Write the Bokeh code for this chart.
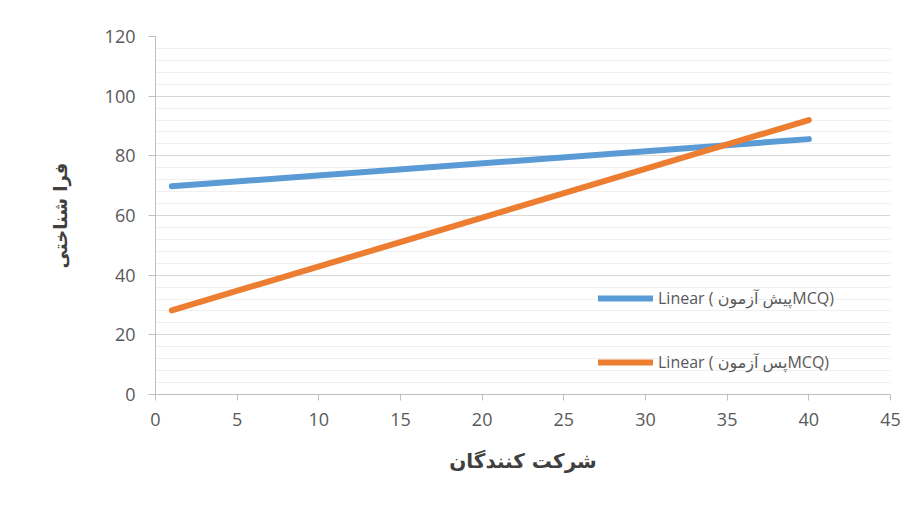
from bokeh.plotting import figure
from bokeh.models import Legend, LegendItem, FixedTicker, Range1d
from bokeh.embed import file_html
from bokeh.resources import INLINE

# Data (trendline endpoints)
participants = [1, 40]
pre_test = [69.8, 85.6]
post_test = [28.2, 92.0]
x_ticks = [0, 5, 10, 15, 20, 25, 30, 35, 40, 45]
y_ticks = [0, 20, 40, 60, 80, 100, 120]
pre_label = "Linear ( پیش آزمونMCQ)"
post_label = "Linear ( پس آزمونMCQ)"
x_title = "شرکت کنندگان"
y_title = "فرا شناختی"

p = figure(width=902, height=489, output_backend="svg", toolbar_location=None,
           x_range=Range1d(0, 45), y_range=Range1d(0, 120),
           min_border_left=155, min_border_right=12, min_border_top=36, min_border_bottom=95)
p.outline_line_color = None
p.background_fill_color = "white"
p.border_fill_color = "white"

r1 = p.line(participants, pre_test, line_color="#5B9BD5", line_width=6, line_cap="round")
r2 = p.line(participants, post_test, line_color="#ED7D31", line_width=6, line_cap="round")

tick_font = "Open Sans"
# axes
p.xaxis.ticker = FixedTicker(ticks=x_ticks)
p.yaxis.ticker = FixedTicker(ticks=y_ticks, minor_ticks=list(range(0, 121, 4)))
for ax in (p.xaxis, p.yaxis):
    ax.axis_line_color = "#bfbfbf"
    ax.major_tick_line_color = "#bfbfbf"
    ax.minor_tick_line_color = None
    ax.major_tick_in = 0
    ax.major_label_text_font = tick_font
    ax.major_label_text_font_size = "18px"
    ax.major_label_text_color = "#595959"
    ax.axis_label_text_font = "DejaVu Sans"
    ax.axis_label_text_font_style = "bold"
    ax.axis_label_text_color = "#404040"
p.xaxis.axis_label_text_font_size = "20px"
p.yaxis.axis_label_text_font_size = "18px"
p.xaxis.major_tick_out = 6
p.yaxis.major_tick_out = 7
p.yaxis.major_label_standoff = 13
p.xaxis.major_label_standoff = 12
p.xaxis.axis_label = x_title
p.yaxis.axis_label = y_title
p.xaxis.axis_label_standoff = 20
p.yaxis.axis_label_standoff = 31

p.xgrid.grid_line_color = None
p.ygrid.grid_line_color = "#d9d9d9"
p.ygrid.minor_grid_line_color = "#f0f0f0"

legend = Legend(items=[LegendItem(label=pre_label, renderers=[r1]),
                       LegendItem(label=post_label, renderers=[r2])],
                location=(443, 21))
legend.background_fill_alpha = 0
legend.border_line_alpha = 0
legend.padding = 0
legend.margin = 0
legend.spacing = 42
legend.glyph_width = 55
legend.glyph_height = 20
legend.label_height = 20
legend.label_standoff = 5
legend.label_text_font = "Open Sans, DejaVu Sans"
legend.label_text_font_size = "16px"
legend.label_text_color = "#595959"
p.add_layout(legend)

open("out.html", "w").write(file_html(p, INLINE))
